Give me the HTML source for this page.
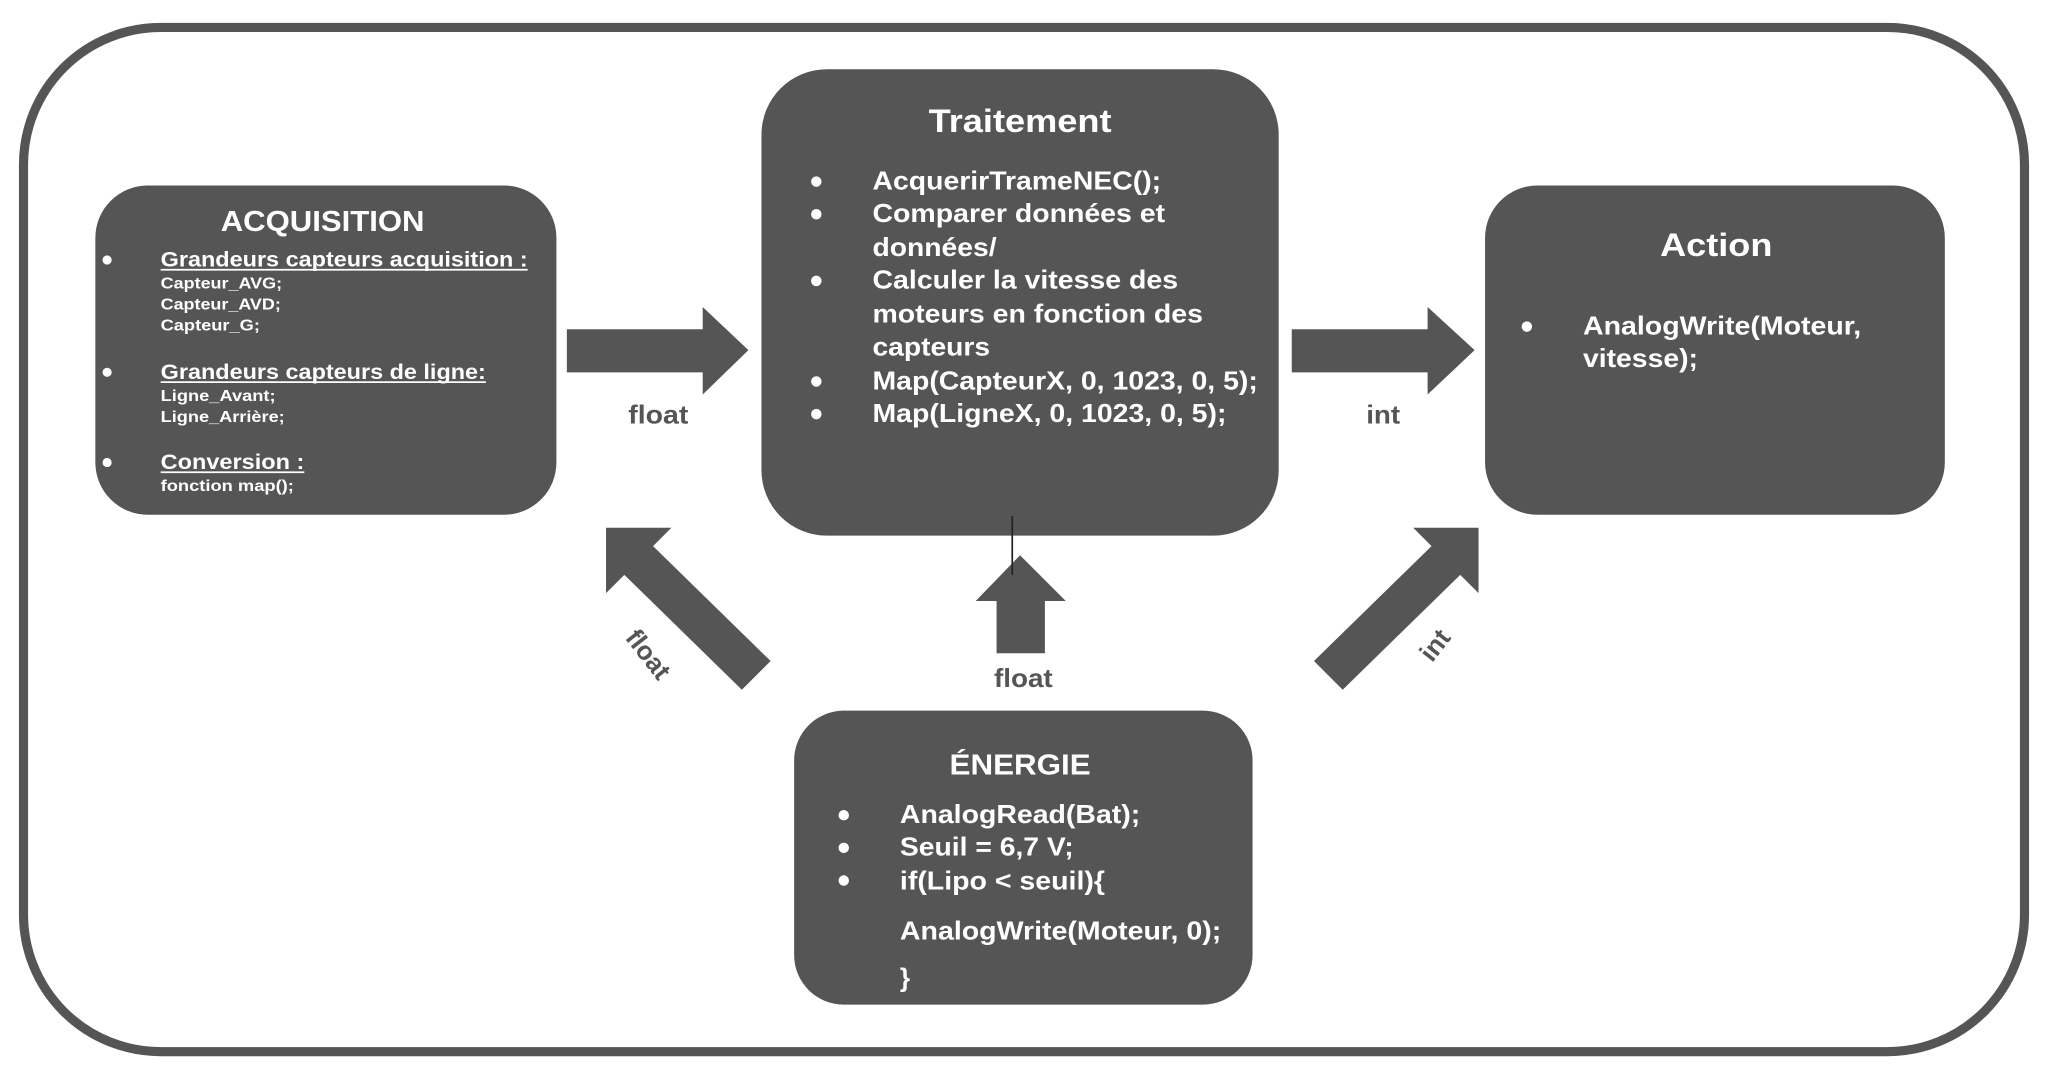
<!DOCTYPE html>
<html><head><meta charset="utf-8"><style>
html,body{margin:0;padding:0;background:#fff;}
svg{display:block;}
text{font-family:"Liberation Sans",Arial,sans-serif;font-weight:bold;fill:#fff;}
.l{fill:#555;}
</style></head><body>
<svg width="2048" height="1083" viewBox="0 0 1568 829" preserveAspectRatio="none" xmlns="http://www.w3.org/2000/svg">
<rect x="18" y="21" width="1532" height="784" rx="105" fill="#fff" stroke="#555" stroke-width="7"/>
<rect x="73" y="142" width="353" height="252" rx="40" fill="#555"/>
<rect x="583" y="53" width="396" height="357" rx="50" fill="#555"/>
<rect x="1137" y="142" width="352" height="252" rx="40" fill="#555"/>
<rect x="608" y="544" width="351" height="225" rx="38" fill="#555"/>
<polygon points="434,252 538,252 538,235 573,268 538,302 538,285 434,285" fill="#555"/>
<polygon points="989,252 1093,252 1093,235 1129,268 1093,302 1093,285 989,285" fill="#555"/>
<polygon points="781,425 816,460 800,460 800,500 763,500 763,460 747,460" fill="#555"/>
<line x1="775" y1="395" x2="775" y2="440" stroke="#222" stroke-width="1.3"/>
<polygon points="464,404 514,404 500,418 590,506 568,528 478,440 464,454" fill="#555"/>
<polygon points="1132,404 1082,404 1096,418 1006,506 1028,528 1118,440 1132,454" fill="#555"/>
<g lengthAdjust="spacingAndGlyphs">
<text class="l" x="481" y="324" font-size="20" textLength="46" lengthAdjust="spacingAndGlyphs">float</text>
<text class="l" x="1046" y="324" font-size="20" textLength="26" lengthAdjust="spacingAndGlyphs">int</text>
<text class="l" x="761" y="526" font-size="20" textLength="45" lengthAdjust="spacingAndGlyphs">float</text>
<text class="l" x="0" y="0" font-size="20" text-anchor="middle" transform="translate(491,505) rotate(52)">float</text>
<text class="l" x="0" y="0" font-size="20" text-anchor="middle" transform="translate(1104,498) rotate(-52)">int</text>
</g>
<!-- Acquisition -->
<text x="169" y="177" font-size="22" textLength="156" lengthAdjust="spacingAndGlyphs">ACQUISITION</text>
<g fill="#fff"><circle cx="82" cy="199" r="3.5"/><circle cx="82" cy="285" r="3.5"/><circle cx="82" cy="354" r="3.5"/></g>
<g font-size="16">
<text x="123" y="204" textLength="281" lengthAdjust="spacingAndGlyphs">Grandeurs capteurs acquisition :</text>
<text x="123" y="290" textLength="249" lengthAdjust="spacingAndGlyphs">Grandeurs capteurs de ligne:</text>
<text x="123" y="359" textLength="110" lengthAdjust="spacingAndGlyphs">Conversion :</text></g>
<line x1="123" y1="206.5" x2="404" y2="206.5" stroke="#fff" stroke-width="1.3"/>
<line x1="123" y1="292.5" x2="372" y2="292.5" stroke="#fff" stroke-width="1.3"/>
<line x1="123" y1="361.5" x2="233" y2="361.5" stroke="#fff" stroke-width="1.3"/>
<g font-size="12">
<text x="123" y="221" textLength="93" lengthAdjust="spacingAndGlyphs">Capteur_AVG;</text>
<text x="123" y="237" textLength="92" lengthAdjust="spacingAndGlyphs">Capteur_AVD;</text>
<text x="123" y="253" textLength="76" lengthAdjust="spacingAndGlyphs">Capteur_G;</text>
<text x="123" y="307" textLength="88" lengthAdjust="spacingAndGlyphs">Ligne_Avant;</text>
<text x="123" y="323" textLength="95" lengthAdjust="spacingAndGlyphs">Ligne_Arrière;</text>
<text x="123" y="376" textLength="102" lengthAdjust="spacingAndGlyphs">fonction map();</text></g>
<!-- Traitement -->
<text x="711" y="101" font-size="25" textLength="140" lengthAdjust="spacingAndGlyphs">Traitement</text>
<g fill="#fff"><circle cx="625" cy="139" r="4"/><circle cx="625" cy="164" r="4"/><circle cx="625" cy="215" r="4"/><circle cx="625" cy="292" r="4"/><circle cx="625" cy="317" r="4"/></g>
<g font-size="20">
<text x="668" y="145" textLength="221" lengthAdjust="spacingAndGlyphs">AcquerirTrameNEC();</text>
<text x="668" y="170" textLength="224" lengthAdjust="spacingAndGlyphs">Comparer données et</text>
<text x="668" y="196" textLength="95" lengthAdjust="spacingAndGlyphs">données/</text>
<text x="668" y="221" textLength="234" lengthAdjust="spacingAndGlyphs">Calculer la vitesse des</text>
<text x="668" y="247" textLength="253" lengthAdjust="spacingAndGlyphs">moteurs en fonction des</text>
<text x="668" y="272" textLength="90" lengthAdjust="spacingAndGlyphs">capteurs</text>
<text x="668" y="298" textLength="295" lengthAdjust="spacingAndGlyphs">Map(CapteurX, 0, 1023, 0, 5);</text>
<text x="668" y="323" textLength="271" lengthAdjust="spacingAndGlyphs">Map(LigneX, 0, 1023, 0, 5);</text>
</g>
<!-- Action -->
<text x="1271" y="196" font-size="25" textLength="86" lengthAdjust="spacingAndGlyphs">Action</text>
<circle cx="1169" cy="250" r="4" fill="#fff"/>
<g font-size="20"><text x="1212" y="256" textLength="213" lengthAdjust="spacingAndGlyphs">AnalogWrite(Moteur,</text><text x="1212" y="281" textLength="88" lengthAdjust="spacingAndGlyphs">vitesse);</text></g>
<!-- Energie -->
<text x="727" y="593" font-size="22" textLength="108" lengthAdjust="spacingAndGlyphs">ÉNERGIE</text>
<g fill="#fff"><circle cx="646" cy="624" r="4"/><circle cx="646" cy="649" r="4"/><circle cx="646" cy="674" r="4"/></g>
<g font-size="20">
<text x="689" y="630" textLength="184" lengthAdjust="spacingAndGlyphs">AnalogRead(Bat);</text>
<text x="689" y="655" textLength="133" lengthAdjust="spacingAndGlyphs">Seuil = 6,7 V;</text>
<text x="689" y="681" textLength="157" lengthAdjust="spacingAndGlyphs">if(Lipo &lt; seuil){</text>
<text x="689" y="719" textLength="246" lengthAdjust="spacingAndGlyphs">AnalogWrite(Moteur, 0);</text>
<text x="689" y="755">}</text>
</g>
</svg>
</body></html>
